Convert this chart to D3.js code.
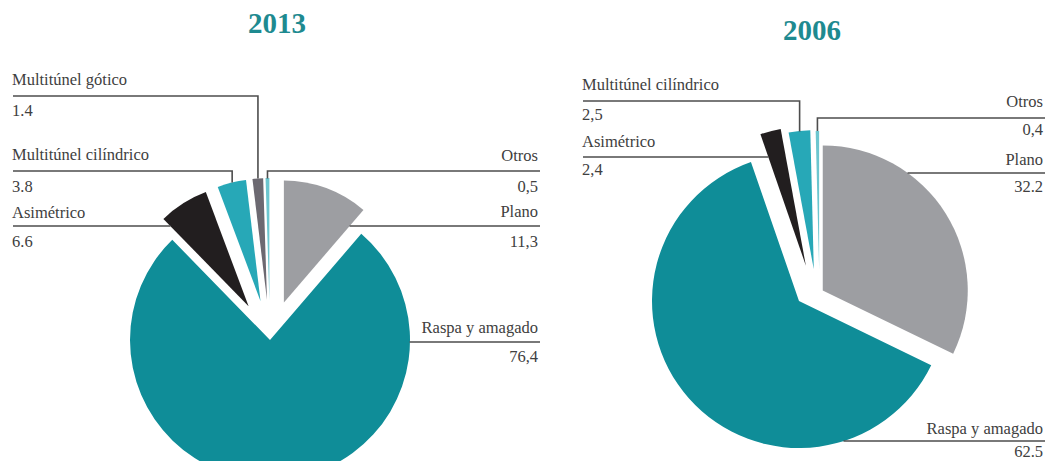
<!DOCTYPE html>
<html>
<head>
<meta charset="utf-8">
<script src="https://cdn.jsdelivr.net/npm/d3@7"></script>
<style>
  html, body { margin: 0; padding: 0; background: #ffffff; }
  svg { display: block; }
</style>
</head>
<body>
<svg id="chart" width="1046" height="461"></svg>
<script>
// ---- Data: share of greenhouse types (%), clockwise from 12 o'clock ----
const categories2013 = ["Plano", "Raspa y amagado", "Asimétrico", "Multitúnel cilíndrico", "Multitúnel gótico", "Otros"];
const values2013 = [11.3, 76.4, 6.6, 3.8, 1.4, 0.5];
const decimalMarks2013 = [",", ",", ".", ".", ".", ","];

const categories2006 = ["Plano", "Raspa y amagado", "Asimétrico", "Multitúnel cilíndrico", "Otros"];
const values2006 = [32.2, 62.5, 2.4, 2.5, 0.4];
const decimalMarks2006 = [".", ".", ",", ",", ","];

const years = ["2013", "2006"];

// ---- Styling ----
const colors = {
  "Plano": "#9d9ea2",
  "Raspa y amagado": "#0f8d98",
  "Asimétrico": "#221e1f",
  "Multitúnel cilíndrico": "#27a8b7",
  "Multitúnel gótico": "#6c6971",
  "Otros": "#6cc6cf"
};
const textColor = "#404040";
const lineColor = "#4d4d4d";
const titleColor = "#1e8a90";
const labelFont = "'Liberation Serif', 'DejaVu Serif', serif";
const labelSize = 16.5;

// Pie geometry and label placement for each panel
const panels = [
  {
    title: years[0], titleX: 277, titleY: 33,
    categories: categories2013, values: values2013, marks: decimalMarks2013,
    center: [270, 340],
    radius: { "Raspa y amagado": 140, default: 122 },
    explode: { "Raspa y amagado": [0], default: [40] },
    labels: {
      "Multitúnel gótico":     { side: "left",  x: 12,  nameY: 85,  lineY: 96,  valueY: 116, leader: "v" },
      "Multitúnel cilíndrico": { side: "left",  x: 12,  nameY: 160, lineY: 171, valueY: 192, leader: "v" },
      "Asimétrico":            { side: "left",  x: 12,  nameY: 218, lineY: 226, valueY: 247, leader: "h" },
      "Otros":                 { side: "right", x: 538, nameY: 161, lineY: 171, valueY: 192, leader: "v" },
      "Plano":                 { side: "right", x: 538, nameY: 217, lineY: 226, valueY: 247, leader: "h" },
      "Raspa y amagado":       { side: "right", x: 538, nameY: 333, lineY: 342, valueY: 362, leader: "h" }
    }
  },
  {
    title: years[1], titleX: 812, titleY: 40,
    categories: categories2006, values: values2006, marks: decimalMarks2006,
    center: [799, 301],
    radius: { "Raspa y amagado": 147, "Plano": 145, default: 139 },
    explode: {
      "Raspa y amagado": [0],
      "Plano": [26, 66],
      "Asimétrico": [36, 11],
      "Multitúnel cilíndrico": [35, 25],
      "Otros": [37, 33],
      default: [0]
    },
    labels: {
      "Multitúnel cilíndrico": { side: "left",  x: 582,  nameY: 90,  lineY: 101, valueY: 120, leader: "v" },
      "Asimétrico":            { side: "left",  x: 582,  nameY: 147, lineY: 157, valueY: 175, leader: "h" },
      "Otros":                 { side: "right", x: 1043, nameY: 107, lineY: 118, valueY: 135, leader: "v" },
      "Plano":                 { side: "right", x: 1043, nameY: 165, lineY: 173, valueY: 192, leader: "h" },
      "Raspa y amagado":       { side: "right", x: 1043, nameY: 434, lineY: 441, valueY: 457, leader: "h" }
    }
  }
];

const svg = d3.select("#chart");
const deg = Math.PI / 180;

function formatValue(v, mark) {
  return d3.format(".1f")(v).replace(".", mark);
}

function pick(map, key) {
  return map[key] !== undefined ? map[key] : map.default;
}

panels.forEach(panel => {
  const g = svg.append("g");

  // Title
  g.append("text")
    .attr("x", panel.titleX)
    .attr("y", panel.titleY)
    .attr("text-anchor", "middle")
    .attr("font-family", labelFont)
    .attr("font-weight", "bold")
    .attr("font-size", 29)
    .attr("fill", titleColor)
    .text(panel.title);

  const rows = panel.categories.map((c, i) => ({ category: c, value: panel.values[i], mark: panel.marks[i] }));
  const pie = d3.pie().sort(null).value(d => d.value);
  const arcs = pie(rows);

  // Resolve each slice's apex (after pulling it out from the centre) and radius
  arcs.forEach(a => {
    const cat = a.data.category;
    const mid = (a.startAngle + a.endAngle) / 2;
    const ex = pick(panel.explode, cat);
    const dist = ex[0];
    const dir = ex.length > 1 ? ex[1] * deg : mid;
    a.apex = [panel.center[0] + dist * Math.sin(dir), panel.center[1] - dist * Math.cos(dir)];
    a.r = pick(panel.radius, cat);
  });

  const slices = g.append("g");
  slices.selectAll("path")
    .data(arcs)
    .join("path")
    .attr("transform", a => `translate(${a.apex[0]},${a.apex[1]})`)
    .attr("d", a => d3.arc().innerRadius(0).outerRadius(a.r)(a))
    .attr("fill", a => colors[a.data.category]);

  function inside(a, px, py) {
    const dx = px - a.apex[0], dy = py - a.apex[1];
    if (Math.hypot(dx, dy) > a.r) return false;
    let ang = Math.atan2(dx, -dy);
    if (ang < 0) ang += 2 * Math.PI;
    return ang >= a.startAngle && ang <= a.endAngle;
  }

  // Labels with leader lines
  arcs.forEach(a => {
    const cat = a.data.category;
    const L = panel.labels[cat];
    if (!L) return;
    const anchor = L.side === "left" ? "start" : "end";
    const lineStart = L.side === "left" ? L.x + 1 : L.x + 2;
    const step = L.side === "left" ? 0.5 : -0.5;

    g.append("text")
      .attr("x", L.x).attr("y", L.nameY)
      .attr("text-anchor", anchor)
      .attr("font-family", labelFont).attr("font-size", labelSize)
      .attr("fill", textColor)
      .text(cat);
    g.append("text")
      .attr("x", L.x).attr("y", L.valueY)
      .attr("text-anchor", anchor)
      .attr("font-family", labelFont).attr("font-size", labelSize)
      .attr("fill", textColor)
      .text(formatValue(a.data.value, a.data.mark));

    let pts;
    if (L.leader === "h") {
      let x = lineStart;
      for (let k = 0; k < 2000 && !inside(a, x, L.lineY); k++) x += step;
      pts = [[lineStart, L.lineY], [x, L.lineY]];
    } else {
      const mid = (a.startAngle + a.endAngle) / 2;
      const xv = a.apex[0] + (a.r - 2) * Math.sin(mid);
      let y = L.lineY;
      for (let k = 0; k < 2000 && !inside(a, xv, y); k++) y += 0.5;
      pts = [[lineStart, L.lineY], [xv, L.lineY], [xv, y]];
    }
    g.append("path")
      .attr("d", d3.line()(pts))
      .attr("fill", "none")
      .attr("stroke", lineColor)
      .attr("stroke-width", 1.6);
  });
});
</script>
</body>
</html>
